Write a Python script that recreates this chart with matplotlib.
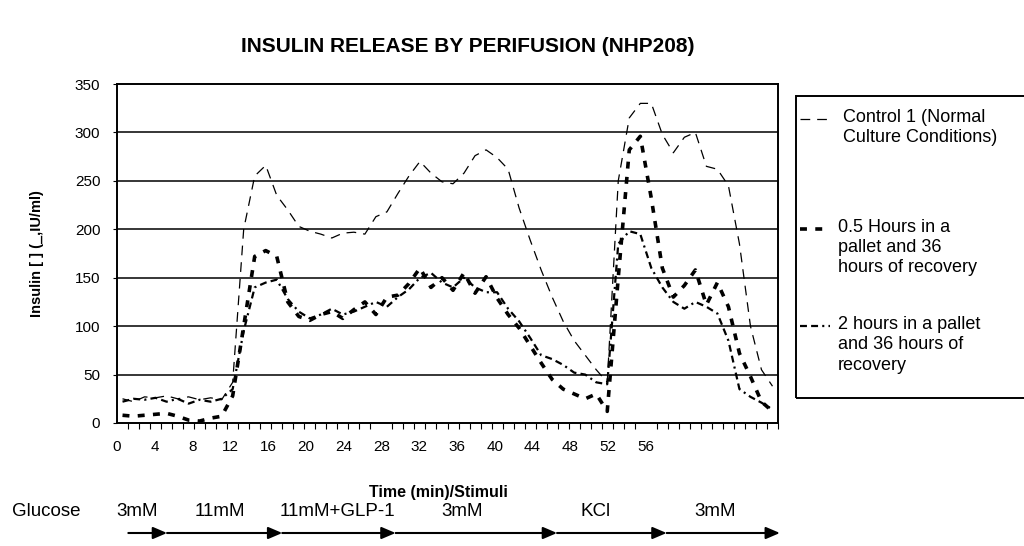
import numpy as np
import matplotlib
matplotlib.use("Agg")
import matplotlib.pyplot as plt
from matplotlib.lines import Line2D
from matplotlib.patches import Rectangle

plt.rcParams['font.family'] = ['Liberation Sans', 'DejaVu Sans']
plt.rcParams['lines.scale_dashes'] = False

# ===== 数据（从图上读取，约每 7/6 分钟一个采样点）=====
control = [25, 22, 27, 26, 28, 25, 27, 24, 26, 24,
           42, 200, 255, 266, 235, 220, 203, 198, 195, 191,
           196, 197, 195, 213, 218, 237, 255, 270, 258, 249,
           247, 258, 276, 282, 274, 262, 222, 189, 158, 130,
           105, 85, 70, 55, 42, 250, 315, 330, 330, 298,
           279, 295, 300, 265, 262, 245, 185, 100, 55, 38]
half_hour = [8, 7, 8, 9, 10, 7, 3, 2, 5, 7,
             28, 100, 172, 178, 172, 125, 110, 106, 112, 115,
             108, 117, 125, 112, 130, 132, 144, 160, 140, 150,
             137, 155, 134, 151, 129, 112, 98, 80, 62, 45,
             35, 30, 25, 30, 12, 150, 282, 296, 232, 160,
             130, 142, 158, 122, 145, 120, 72, 48, 22, 12]
two_hours = [22, 25, 24, 26, 22, 25, 20, 24, 22, 25,
             35, 95, 140, 145, 148, 128, 115, 108, 112, 118,
             112, 115, 120, 125, 120, 130, 138, 150, 155, 145,
             140, 150, 140, 135, 135, 118, 105, 88, 70, 66,
             60, 52, 50, 42, 40, 185, 198, 195, 160, 140,
             125, 118, 125, 120, 113, 85, 35, 27, 21, 14]

x_ticks = [0, 4, 8, 12, 16, 20, 24, 28, 32, 36, 40, 44, 48, 52, 56]
y_ticks = [0, 50, 100, 150, 200, 250, 300, 350]

legend_labels = ["Control 1 (Normal\nCulture Conditions)",
                 "0.5 Hours in a\npallet and 36\nhours of recovery",
                 "2 hours in a pallet\nand 36 hours of\nrecovery"]

# 刺激条件（分钟）
stim_labels = ["3mM", "11mM", "11mM+GLP-1", "3mM", "KCl", "3mM"]
stim_label_pos = [2.1, 10.9, 23.3, 36.5, 50.7, 63.3]
stim_edges = [1.2, 5.3, 17.5, 29.5, 46.6, 58.2, 70.2]

X_MAX = 70
n = len(control)
step = X_MAX / n
time = (np.arange(n) + 0.5) * step

W, H = 1024, 546
fig = plt.figure(figsize=(W / 100, H / 100), dpi=100)
ax = fig.add_axes([117 / W, 1 - 423 / H, 661 / W, 339 / H])

styles = [
    dict(lw=0.9, dashes=(7, 5)),
    dict(lw=2.6, dashes=(5, 6)),
    dict(lw=1.6, dashes=(5, 3, 5, 3, 1.5, 3)),
]
series = [control, half_hour, two_hours]
for vals, st in zip(series, styles):
    ax.plot(time, vals, color='black', solid_capstyle='butt',
            dash_capstyle='butt', **st)

ax.set_xlim(0, X_MAX)
ax.set_ylim(0, 350)
ax.set_yticks(y_ticks)
ax.set_xticks(x_ticks)
ax.set_xticks(np.arange(n + 1) * step, minor=True)
ax.tick_params(axis='x', which='major', length=0, pad=12, labelsize=11)
ax.tick_params(axis='x', which='minor', length=4, width=0.8, direction='out')
ax.tick_params(axis='y', which='major', length=3, width=0.8, pad=9, labelsize=11)
for y in y_ticks[1:-1]:
    ax.axhline(y, color='black', lw=1.1, zorder=0)
for sp in ax.spines.values():
    sp.set_linewidth(1.4)

ax.set_ylabel("Insulin [ ] (_,IU/ml)", fontsize=10.5, fontweight='bold', labelpad=22)
fig.text(438 / W, 1 - 492 / H, "Time (min)/Stimuli", ha='center', va='center',
         fontsize=11.5, fontweight='bold')
fig.text(468 / W, 1 - 47 / H, "INSULIN RELEASE BY PERIFUSION (NHP208)",
         ha='center', va='center', fontsize=15, fontweight='bold')

# 刺激条件箭头
y_lab = (423 - 512) / 339
y_arr = (423 - 533) / 339
fig.text(12 / W, 1 - 512 / H, "Glucose", ha='left', va='center', fontsize=13.5)
for lab, xp in zip(stim_labels, stim_label_pos):
    ax.text(xp, y_lab, lab, transform=ax.get_xaxis_transform(), ha='center',
            va='center', fontsize=13.5, clip_on=False)
for x0, x1 in zip(stim_edges[:-1], stim_edges[1:]):
    ax.annotate("", xy=(x1, y_arr), xytext=(x0, y_arr),
                xycoords=('data', 'axes fraction'),
                textcoords=('data', 'axes fraction'), annotation_clip=False,
                arrowprops=dict(arrowstyle='-|>,head_length=0.7,head_width=0.3',
                                color='black', lw=1.5, shrinkA=0, shrinkB=0,
                                mutation_scale=12))

# 手动图例
fig.add_artist(Rectangle((796 / W, 1 - 398 / H), 240 / W, 302 / H,
                         transform=fig.transFigure, fill=False, lw=1.4,
                         edgecolor='black', clip_on=False))
handle_y = [119, 229, 326]
text_x = [843, 838, 838]
for st, hy, tx, lab in zip(styles, handle_y, text_x, legend_labels):
    fig.add_artist(Line2D([800 / W, 830 / W], [1 - hy / H, 1 - hy / H],
                          transform=fig.transFigure, color='black', **st))
    fig.text(tx / W, 1 - (hy - 10) / H, lab, ha='left', va='top',
             fontsize=13, linespacing=1.25)

fig.savefig("out.png", dpi=100)
